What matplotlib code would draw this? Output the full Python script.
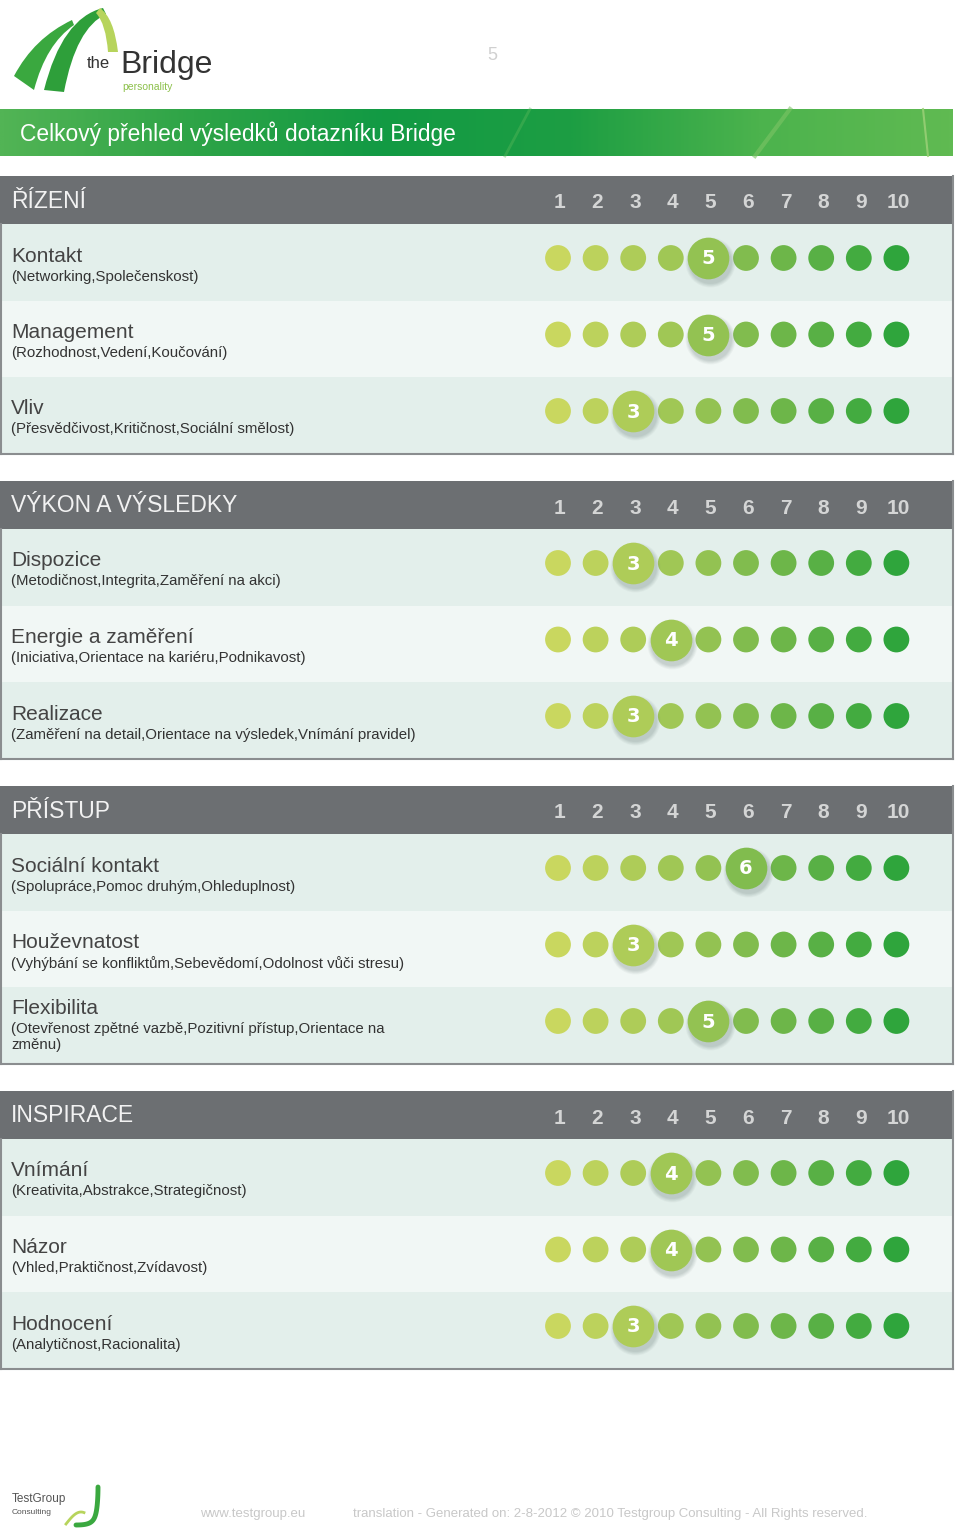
import numpy as np
import matplotlib
matplotlib.use("Agg")
import matplotlib.pyplot as plt
from matplotlib.path import Path
from matplotlib.patches import PathPatch, Rectangle
from matplotlib.colors import LinearSegmentedColormap

plt.rcParams["font.family"] = ["Liberation Sans", "DejaVu Sans"]

# data
title = "Celkový přehled výsledků dotazníku Bridge"
page_no = "5"
sections = ["ŘÍZENÍ", "VÝKON A VÝSLEDKY", "PŘÍSTUP", "INSPIRACE"]
scale_names = [
    ["Kontakt", "Management", "Vliv"],
    ["Dispozice", "Energie a zaměření", "Realizace"],
    ["Sociální kontakt", "Houževnatost", "Flexibilita"],
    ["Vnímání", "Názor", "Hodnocení"],
]
scale_subs = [
    ["(Networking,Společenskost)", "(Rozhodnost,Vedení,Koučování)",
     "(Přesvědčivost,Kritičnost,Sociální smělost)"],
    ["(Metodičnost,Integrita,Zaměření na akci)",
     "(Iniciativa,Orientace na kariéru,Podnikavost)",
     "(Zaměření na detail,Orientace na výsledek,Vnímání pravidel)"],
    ["(Spolupráce,Pomoc druhým,Ohleduplnost)",
     "(Vyhýbání se konfliktům,Sebevědomí,Odolnost vůči stresu)",
     "(Otevřenost zpětné vazbě,Pozitivní přístup,Orientace na\nzměnu)"],
    ["(Kreativita,Abstrakce,Strategičnost)", "(Vhled,Praktičnost,Zvídavost)",
     "(Analytičnost,Racionalita)"],
]
scores = [
    [5, 5, 3],
    [3, 4, 3],
    [6, 3, 5],
    [4, 4, 3],
]
levels = list(range(1, 11))
footer_web = "www.testgroup.eu"
footer_note = "translation - Generated on: 2-8-2012 © 2010 Testgroup Consulting - All Rights reserved."

W, H = 960, 1531
fig = plt.figure(figsize=(W / 100, H / 100), dpi=100)
ax = fig.add_axes([0, 0, 1, 1])
ax.set_xlim(0, W)
ax.set_ylim(H, 0)
ax.axis("off")

# dots axes: x in level units, y in pixels
dx0, dx1 = 539.2, 915.2
dax = fig.add_axes([dx0 / W, 0, (dx1 - dx0) / W, 1], zorder=3)
dax.set_xlim(0.5, 10.5)
dax.set_ylim(H, 0)
dax.axis("off")
dax.patch.set_alpha(0)

dot_cmap = LinearSegmentedColormap.from_list("dots", ["#c9d75f", "#8cbf50", "#2fa53c"])
dot_colors = [dot_cmap(i / 9) for i in range(10)]

# --- logo ---
def band(verts, codes, color):
    ax.add_patch(PathPatch(Path(verts, codes), fc=color, ec="none"))

M, C, L, Z = Path.MOVETO, Path.CURVE3, Path.LINETO, Path.CLOSEPOLY
band([(14, 76), (34, 38), (72, 20), (74, 25), (46, 44), (34, 90), (14, 76)],
     [M, C, C, L, C, C, Z], "#3aa83f")
band([(44, 90), (62, 18), (103, 8), (106, 14), (76, 28), (64, 92), (44, 90)],
     [M, C, C, L, C, C, Z], "#2e9f3a")
band([(100, 8), (114, 18), (118, 52), (108, 52), (106, 24), (96, 13), (100, 8)],
     [M, C, C, L, C, C, Z], "#b7d45c")
ax.text(87, 68, "the", fontsize=12, color="#333333", va="baseline")
ax.text(120, 73, "Bridge", fontsize=23, color="#333333", va="baseline")
ax.text(122, 90, "personality", fontsize=7.5, color="#8cc04a", va="baseline")
ax.text(492, 56, page_no, fontsize=13, color="#d0d0d0", ha="center", va="center")

# --- title banner ---
grad = np.linspace(0, 1, 400)
banner_cmap = LinearSegmentedColormap.from_list(
    "ban", ["#52b455", "#2ea447", "#129a44", "#1d9e43", "#4cb34d", "#60ba52"])
ax.imshow(grad[None, :], cmap=banner_cmap, aspect="auto",
          extent=(0, 953, 156, 109), zorder=1)
ax.plot([755, 790], [156, 109], color="#7cc465", lw=3, alpha=0.6, zorder=2)
ax.plot([505, 530], [156, 109], color="#5cb95a", lw=2, alpha=0.4, zorder=2)
ax.plot([923, 928], [109, 156], color="#9fd27a", lw=1.5, alpha=0.8, zorder=2)
ax.text(20, 134, title, fontsize=16.4, color="white", va="center", zorder=3)

# --- sections ---
head_h, row_h = 48, 76.5
for s, sec in enumerate(sections):
    top = 176 + s * 305
    ax.add_patch(Rectangle((0, top), 953, head_h, fc="#6c6f72", ec="none", zorder=1))
    ax.text(11, top + 25, sec, fontsize=16.5, color="#f2f2f2", va="center", zorder=2)
    for lv in levels:
        dax.text(lv + 0.05, top + 27, str(lv), fontsize=15, color="#d4d5d5",
                 fontweight="bold", ha="center", va="center")
    for r in range(3):
        rt = top + head_h + r * row_h
        fc = "#f1f7f5" if r == 1 else "#e3efeb"
        ax.add_patch(Rectangle((0, rt), 953, row_h, fc=fc, ec="none", zorder=1))
        nlines = scale_subs[s][r].count("\n") + 1
        ny = rt + 32 - 10 * (nlines - 1)
        ax.text(11, ny, scale_names[s][r], fontsize=15, color="#444444",
                va="center", zorder=2)
        ax.text(11, ny + 13.5, scale_subs[s][r], fontsize=10.8, color="#333333",
                va="top", linespacing=1.1, zorder=2)
        cy = rt + 34
        sc = scores[s][r]
        others = [lv for lv in levels if lv != sc]
        dax.scatter(others, [cy] * len(others), s=345,
                    c=[dot_colors[lv - 1] for lv in others], lw=0, zorder=2)
        # shadow under the highlighted score
        for k, a in zip(range(6), [0.05, 0.05, 0.06, 0.07, 0.08, 0.09]):
            dax.scatter([sc + 0.04], [cy + 4], s=1300 - k * 70,
                        color="#7a8a86", alpha=a, lw=0, zorder=3)
        dax.scatter([sc], [cy], s=900, color=dot_colors[sc - 1], lw=0, zorder=4)
        dax.text(sc, cy + 1, str(sc), fontsize=14, color="white", family="DejaVu Sans",
                 fontweight="heavy", ha="center", va="center", zorder=5)
    bot = top + head_h + 3 * row_h
    ax.plot([1, 1], [top + head_h, bot], color="#8a8d8f", lw=1.5, zorder=2)
    ax.plot([953, 953], [top, bot], color="#8a8d8f", lw=1.5, zorder=2)
    ax.plot([0, 953], [bot, bot], color="#8a8d8f", lw=1.5, zorder=2)

# --- footer ---
ax.text(12, 1499, "TestGroup", fontsize=8.5, color="#555555", va="center")
ax.text(12, 1512, "Consulting", fontsize=6, color="#555555", va="center")
t = np.linspace(0, 1, 50)
ax.plot(98 - 8 * t ** 2 - 14 * t ** 6, 1487 + 38 * np.sin(t * np.pi / 2),
        color="#3aa83f", lw=3.5, solid_capstyle="round")
ax.plot(66 + 18 * t, 1524 - 12 * np.sin(t * np.pi * 0.6), color="#b7d45c", lw=2)
ax.text(200, 1514, footer_web, fontsize=9.5, color="#c8c8c8", va="center")
ax.text(353, 1514, footer_note, fontsize=9.5, color="#c8c8c8", va="center")

fig.savefig("out.png", dpi=100)
